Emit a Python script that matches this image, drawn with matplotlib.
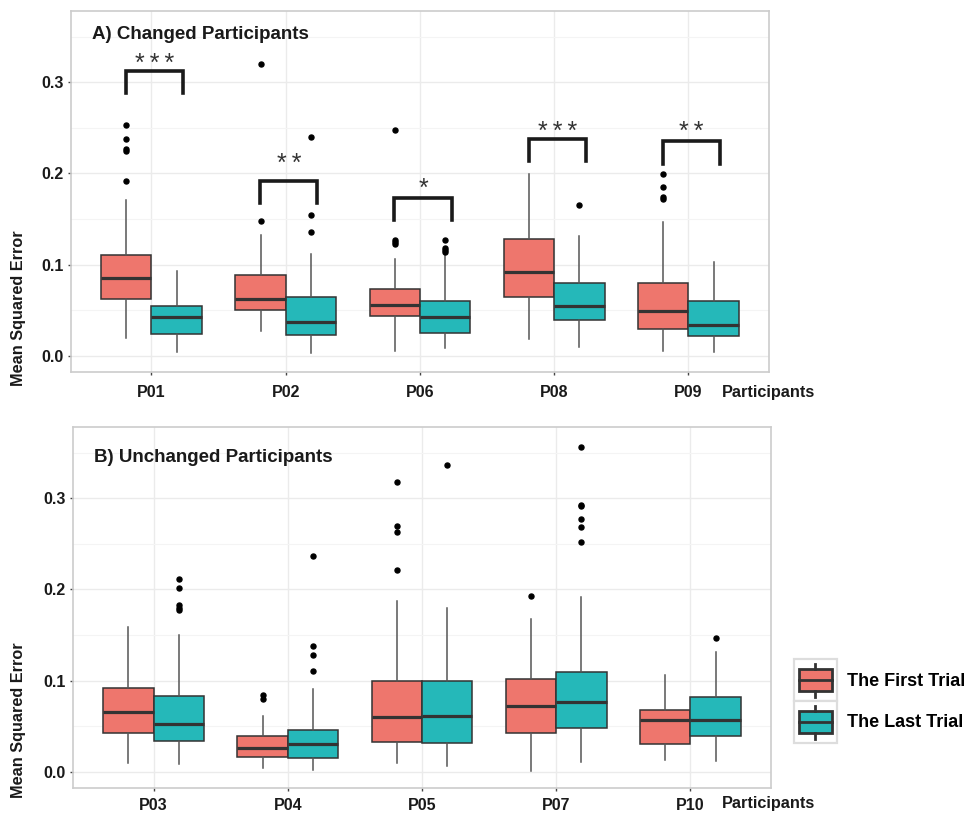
"""Boxplots of mean squared error, first vs last trial, per participant."""

import matplotlib

matplotlib.use("Agg")
import matplotlib.pyplot as plt  # noqa: E402
from matplotlib.legend_handler import HandlerBase  # noqa: E402
from matplotlib.lines import Line2D  # noqa: E402
from matplotlib.patches import Patch, Rectangle  # noqa: E402

plt.rcParams["font.family"] = ["Liberation Sans", "DejaVu Sans"]

# ---- data (whisker low, Q1, median, Q3, whisker high) ----
A_PARTICIPANTS = ["P01", "P02", "P06", "P08", "P09"]
A_FIRST = [
    (0.020, 0.0625, 0.085, 0.111, 0.171),
    (0.027, 0.050, 0.062, 0.088, 0.132),
    (0.005, 0.0435, 0.0555, 0.073, 0.106),
    (0.0186, 0.0647, 0.0913, 0.128, 0.1995),
    (0.0047, 0.0296, 0.0486, 0.080, 0.1465),
]
A_LAST = [
    (0.004, 0.024, 0.042, 0.055, 0.093),
    (0.003, 0.023, 0.037, 0.064, 0.112),
    (0.009, 0.025, 0.043, 0.060, 0.110),
    (0.0095, 0.039, 0.055, 0.080, 0.131),
    (0.0037, 0.022, 0.034, 0.0596, 0.1027),
]
A_FIRST_OUT = [
    [0.253, 0.2375, 0.2265, 0.224, 0.192],
    [0.320, 0.148],
    [0.247, 0.127, 0.1245, 0.122],
    [],
    [0.1995, 0.1845, 0.1746, 0.1717],
]
A_LAST_OUT = [
    [],
    [0.240, 0.1545, 0.136],
    [0.1265, 0.118, 0.1155, 0.1135],
    [0.165],
    [],
]
A_SIG = ["***", "**", "*", "***", "**"]
A_BRACKET_Y = [0.3124, 0.192, 0.173, 0.238, 0.235]
A_STAR_Y = [0.328, 0.2185, 0.191, 0.253, 0.253]

B_PARTICIPANTS = ["P03", "P04", "P05", "P07", "P10"]
B_FIRST = [
    (0.0092, 0.0429, 0.066, 0.0923, 0.1586),
    (0.0037, 0.0158, 0.0256, 0.039, 0.061),
    (0.0092, 0.0326, 0.0597, 0.0996, 0.1868),
    (0.0011, 0.0421, 0.0725, 0.1018, 0.1678),
    (0.0128, 0.0304, 0.0564, 0.0678, 0.1066),
]
B_LAST = [
    (0.009, 0.034, 0.052, 0.0832, 0.1495),
    (0.0018, 0.0154, 0.0304, 0.046, 0.0908),
    (0.0066, 0.0311, 0.0612, 0.0996, 0.1795),
    (0.011, 0.0484, 0.0769, 0.109, 0.192),
    (0.0114, 0.0392, 0.0564, 0.0817, 0.1308),
]
B_FIRST_OUT = [
    [],
    [0.0842, 0.0795],
    [0.318, 0.270, 0.2626, 0.2212],
    [0.1927],
    [],
]
B_LAST_OUT = [
    [0.211, 0.202, 0.1824, 0.180, 0.1777],
    [0.237, 0.1377, 0.128, 0.110],
    [0.336],
    [0.356, 0.2923, 0.291, 0.2769, 0.2689, 0.2516],
    [0.1465],
]

TRIALS = ["The First Trial", "The Last Trial"]
FILL = ["#EE766D", "#25B8B9"]
EDGE = "#333333"
WHISK = "#555555"
GRID = "#EBEBEB"
BORDER = "#CCCCCC"
INK = "#1a1a1a"

BOX_W = 0.375
YLIM = (-0.0178, 0.378)


def _stats(rows, outliers):
    return [
        dict(whislo=r[0], q1=r[1], med=r[2], q3=r[3], whishi=r[4], fliers=o)
        for r, o in zip(rows, outliers)
    ]


def _panel(ax, names, first, last, first_out, last_out, title, title_y, xpad):
    pos = list(range(len(names)))
    for k, (rows, outs) in enumerate([(first, first_out), (last, last_out)]):
        off = (k - 0.5) * BOX_W
        ax.bxp(
            _stats(rows, outs),
            positions=[p + off for p in pos],
            widths=BOX_W,
            patch_artist=True,
            showcaps=False,
            boxprops=dict(facecolor=FILL[k], edgecolor=EDGE, linewidth=1.1),
            medianprops=dict(color=EDGE, linewidth=2.3),
            whiskerprops=dict(color=WHISK, linewidth=1.1),
            flierprops=dict(marker="o", markerfacecolor="black",
                            markeredgecolor="black", markersize=3.6),
            manage_ticks=False,
            zorder=3,
        )
    ax.set_xlim(-0.6, len(names) - 0.4)
    ax.set_ylim(*YLIM)
    ax.set_xticks(pos)
    ax.set_xticklabels(names, fontsize=11.5, fontweight="bold", color=INK)
    ax.set_yticks([0.0, 0.1, 0.2, 0.3])
    ax.set_yticklabels(["0.0", "0.1", "0.2", "0.3"], fontsize=11.5,
                       fontweight="bold", color=INK)
    ax.set_yticks([0.05, 0.15, 0.25, 0.35], minor=True)
    ax.tick_params(axis="both", which="major", length=2.5, width=1,
                   color="#444444")
    ax.tick_params(axis="x", pad=xpad)
    ax.tick_params(axis="y", pad=3)
    ax.tick_params(which="minor", length=0)
    ax.grid(which="major", color=GRID, linewidth=1.0, zorder=0)
    ax.grid(which="minor", axis="y", color="#F4F4F4", linewidth=0.8, zorder=0)
    ax.set_axisbelow(True)
    for sp in ax.spines.values():
        sp.set_color(BORDER)
        sp.set_linewidth(1.2)
    ax.text(-0.44, title_y, title, fontsize=13.5, fontweight="bold",
            color=INK, va="center")


class BoxKey(HandlerBase):
    """Legend key drawn as a small boxplot glyph inside a grey frame."""

    def create_artists(self, legend, orig_handle, xdescent, ydescent,
                       width, height, fontsize, trans):
        x0, y0 = -xdescent, -ydescent
        bg = Rectangle((x0, y0), width, height, facecolor="white",
                       edgecolor="#DDDDDD", linewidth=1.6, transform=trans)
        box = Rectangle((x0 + 0.12 * width, y0 + 0.24 * height),
                        0.76 * width, 0.52 * height,
                        facecolor=orig_handle.get_facecolor(),
                        edgecolor=EDGE, linewidth=2.0, transform=trans)
        xm = x0 + 0.5 * width
        med = Line2D([x0 + 0.12 * width, x0 + 0.88 * width],
                     [y0 + 0.5 * height] * 2, color=EDGE, linewidth=2.0,
                     transform=trans)
        w1 = Line2D([xm, xm], [y0 + 0.1 * height, y0 + 0.24 * height],
                    color=EDGE, linewidth=2.0, transform=trans)
        w2 = Line2D([xm, xm], [y0 + 0.76 * height, y0 + 0.9 * height],
                    color=EDGE, linewidth=2.0, transform=trans)
        return [bg, box, med, w1, w2]


fig = plt.figure(figsize=(9.68, 8.14), dpi=100)
ax_a = fig.add_axes([0.0733, 0.543, 0.7211, 0.4435])
ax_b = fig.add_axes([0.0754, 0.0319, 0.7211, 0.4435])

_panel(ax_a, A_PARTICIPANTS, A_FIRST, A_LAST, A_FIRST_OUT, A_LAST_OUT,
       "A) Changed Participants", 0.352, 7)
_panel(ax_b, B_PARTICIPANTS, B_FIRST, B_LAST, B_FIRST_OUT, B_LAST_OUT,
       "B) Unchanged Participants", 0.345, 5)

# significance brackets on panel A (stars spaced out with thin spaces)
LEG = 0.0245
for i, (sig, yb, ys) in enumerate(zip(A_SIG, A_BRACKET_Y, A_STAR_Y)):
    xl, xr = i - 0.19, i + 0.235
    ax_a.plot([xl, xl, xr, xr], [yb - LEG, yb, yb, yb - LEG], color=INK,
              linewidth=2.6, solid_joinstyle="miter", zorder=4)
    ax_a.annotate("\u2009".join(sig), ((xl + xr) / 2, ys), xytext=(0, -10.4),
                  textcoords="offset points", ha="center", va="baseline",
                  fontsize=18, color="#333333")

fig.text(0.746, 0.518, "Participants", fontsize=11.7, fontweight="bold",
         color=INK, va="center", ha="left")
fig.text(0.746, 0.0125, "Participants", fontsize=11.7, fontweight="bold",
         color=INK, va="center", ha="left")

fig.text(0.019, 0.6216, "Mean Squared Error", rotation=90, fontsize=11.7,
         fontweight="bold", color=INK, va="center", ha="center")
fig.text(0.019, 0.115, "Mean Squared Error", rotation=90, fontsize=11.7,
         fontweight="bold", color=INK, va="center", ha="center")

handles = [Patch(facecolor=c) for c in FILL]
fig.legend(handles, TRIALS, handler_map={Patch: BoxKey()},
           loc="upper left", bbox_to_anchor=(0.820, 0.190), frameon=False,
           prop=dict(weight="bold", size=13),
           handlelength=2.4, handleheight=3.2, labelspacing=0.0,
           handletextpad=0.55, borderpad=0, borderaxespad=0)

fig.savefig("out.png", dpi=100)
